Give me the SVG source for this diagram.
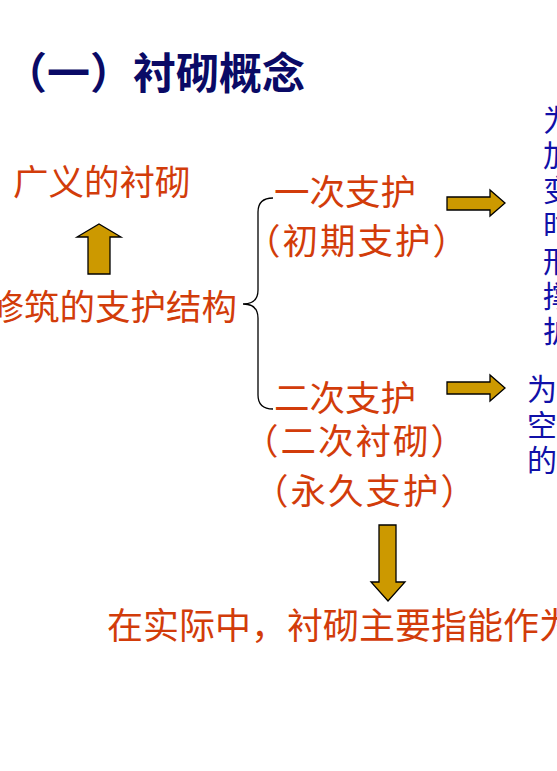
<svg xmlns="http://www.w3.org/2000/svg" width="557" height="771" viewBox="0 0 557 771">
<style>
.title{font-family:"Noto Sans CJK SC","Liberation Sans",sans-serif;font-weight:bold;font-size:43px;fill:#0a0a66}
.red{font-family:"Noto Sans CJK SC","Liberation Serif",sans-serif;font-size:35.5px;fill:#d23c0a}
.paren{letter-spacing:2px}
.blue{font-family:"Noto Sans CJK SC","Liberation Serif",sans-serif;font-size:30px;fill:#1010a8}
.arrow{fill:#cc9900;stroke:#000;stroke-width:1.3;stroke-linejoin:miter}
.brace{fill:none;stroke:#000;stroke-width:1.3}
</style>
<rect width="557" height="771" fill="#fff"/>
<g id="title"><text class="title" x="4" y="89">（一）衬砌概念</text></g>
<g id="node-broad"><text class="red" x="13" y="195">广义的衬砌</text></g>
<g id="node-structure"><text class="red" x="237" y="320" text-anchor="end">修筑的支护结构</text></g>
<g id="node-primary">
<text class="red" x="274" y="205">一次支护</text>
<text class="red paren" x="245" y="254">（初期支护）</text>
</g>
<g id="node-secondary">
<text class="red" x="274" y="411">二次支护</text>
<text class="red paren" x="243" y="454">（二次衬砌）</text>
<text class="red paren" x="253" y="504">（永久支护）</text>
</g>
<g id="node-desc1">
<text class="blue" x="543" y="131">为</text>
<text class="blue" x="543" y="166">加</text>
<text class="blue" x="543" y="201">变</text>
<text class="blue" x="543" y="236">时</text>
<text class="blue" x="543" y="272">形</text>
<text class="blue" x="543" y="307">撑</text>
<text class="blue" x="543" y="342">护</text>
</g>
<g id="node-desc2">
<text class="blue" x="527" y="400">为</text>
<text class="blue" x="527" y="436">空</text>
<text class="blue" x="527" y="471">的</text>
</g>
<g id="node-conclusion"><text class="red" style="font-size:36px" x="107" y="639">在实际中，衬砌主要指能作为</text></g>
<g id="connectors">
<polygon class="arrow" points="88,274 88,237 77,237 99,224 121,237 110,237 110,274"/>
<path class="brace" d="M273,198 Q258,198 258,212 L258,290 Q258,304 243,304 Q258,304 258,318 L258,395 Q258,409 273,409"/>
<polygon class="arrow" points="447,197 490,197 490,190 505,203 490,216 490,210 447,210"/>
<polygon class="arrow" points="447,382 490,382 490,375 505,388 490,401 490,394 447,394"/>
<polygon class="arrow" points="379,525 396,525 396,582 405,582 388,601 371,582 379,582"/>
</g>
</svg>
